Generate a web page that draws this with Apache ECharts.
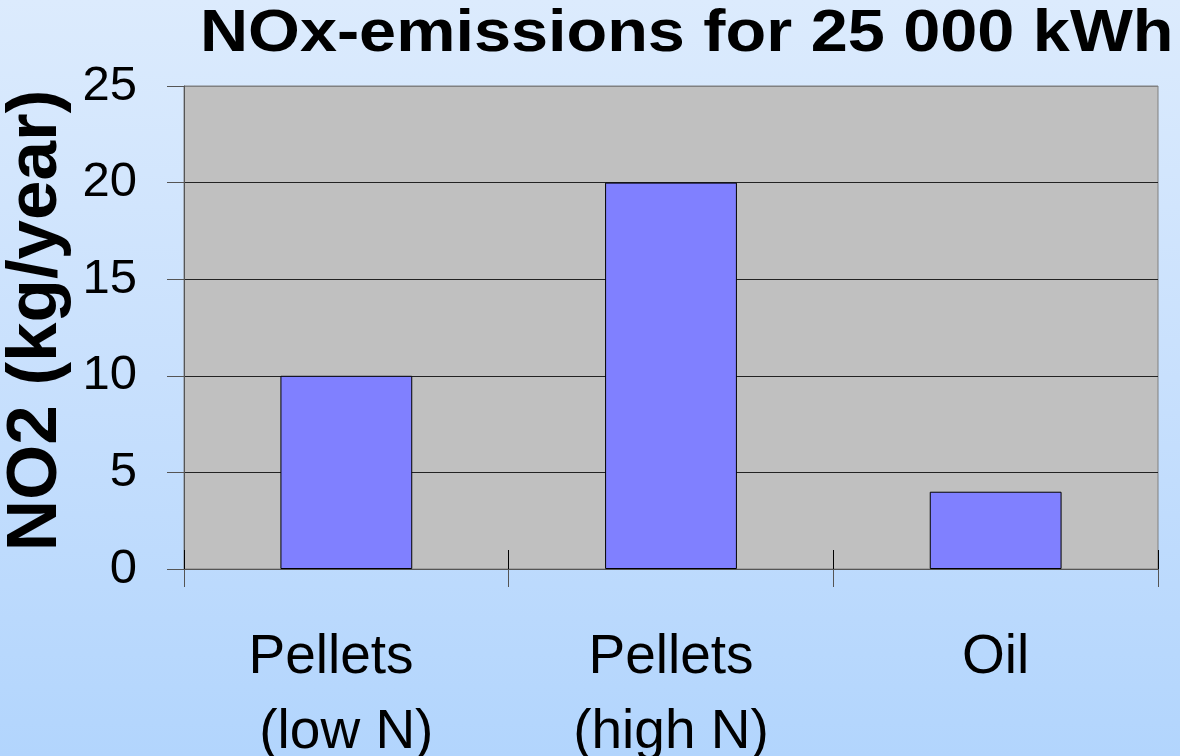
<!DOCTYPE html>
<html>
<head>
<meta charset="utf-8">
<title>NOx-emissions for 25 000 kWh</title>
<script src="https://cdn.jsdelivr.net/npm/echarts@6/dist/echarts.min.js"></script>
<style>
  html, body { margin: 0; padding: 0; }
  body { width: 1180px; height: 756px; overflow: hidden;
         background: linear-gradient(to bottom, #dcebfd 0%, #c8e0fd 50%, #b2d5fd 100%); }
  #chart { width: 1180px; height: 756px; }
</style>
</head>
<body>
<div id="chart"></div>
<script>
// Fuel categories (trailing space keeps the first label's lines offset as laid out)
const categories = ['Pellets  \n(low N)', 'Pellets\n(high N)', 'Oil'];
// Annual NO2 emissions, kg/year, for 25 000 kWh of heat
const emissions = [10, 20, 4];
// Value axis range and step
const yMin = 0;
const yMax = 25;
const yStep = 5;

const titleText = 'NOx-emissions for 25 000 kWh';
const yName = 'NO2 (kg/year)';
const fontFamily = '"Liberation Sans", Arial, Helvetica, sans-serif';

const chart = echarts.init(document.getElementById('chart'), null, { renderer: 'canvas' });

chart.setOption({
  backgroundColor: 'transparent',
  animation: false,
  grid: {
    left: 184, right: 22, top: 86, bottom: 187,
    containLabel: false,
    outerBoundsMode: 'none',
    show: true,
    backgroundColor: '#c0c0c0',
    borderColor: '#808080',
    borderWidth: 1
  },
  graphic: [{
    type: 'text',
    x: 200,
    y: 34,
    scaleX: 1.11,
    style: {
      text: titleText,
      font: 'bold 60px ' + fontFamily,
      fill: '#000',
      align: 'left',
      verticalAlign: 'middle'
    }
  }],
  xAxis: [{
    type: 'category',
    data: categories,
    boundaryGap: true,
    axisLine: { show: true, lineStyle: { color: '#555', width: 1 } },
    axisTick: { show: true, length: 18, lineStyle: { color: '#555', width: 1 } },
    axisLabel: {
      color: '#000',
      fontFamily: fontFamily,
      fontSize: 55,
      lineHeight: 75,
      margin: 51,
      interval: 0
    },
    splitLine: { show: false }
  }, {
    type: 'category',
    data: categories,
    boundaryGap: true,
    position: 'bottom',
    axisLine: { show: false },
    axisTick: { show: true, inside: true, length: 19, lineStyle: { color: '#000', width: 1 } },
    axisLabel: { show: false },
    splitLine: { show: false }
  }],
  yAxis: {
    type: 'value',
    min: yMin,
    max: yMax,
    interval: yStep,
    name: yName,
    nameLocation: 'middle',
    nameGap: 102,
    nameRotate: 90,
    nameTextStyle: {
      color: '#000',
      fontFamily: fontFamily,
      fontWeight: 'bold',
      fontSize: 71,
      padding: [0, 0, 0, 14]
    },
    axisLine: { show: true, lineStyle: { color: '#555', width: 1 } },
    axisTick: { show: true, length: 17, lineStyle: { color: '#555', width: 1 } },
    axisLabel: {
      color: '#000',
      fontFamily: fontFamily,
      fontSize: 49,
      margin: 47
    },
    splitLine: {
      show: true,
      lineStyle: { color: ['#222', '#222', '#222', '#222', '#222', '#808080'], width: 1 }
    }
  },
  series: [{
    type: 'bar',
    xAxisIndex: 0,
    data: emissions,
    barWidth: '40.6%',
    itemStyle: {
      color: '#8080ff',
      borderColor: '#000',
      borderWidth: 1
    },
    silent: true
  }]
});
</script>
</body>
</html>
